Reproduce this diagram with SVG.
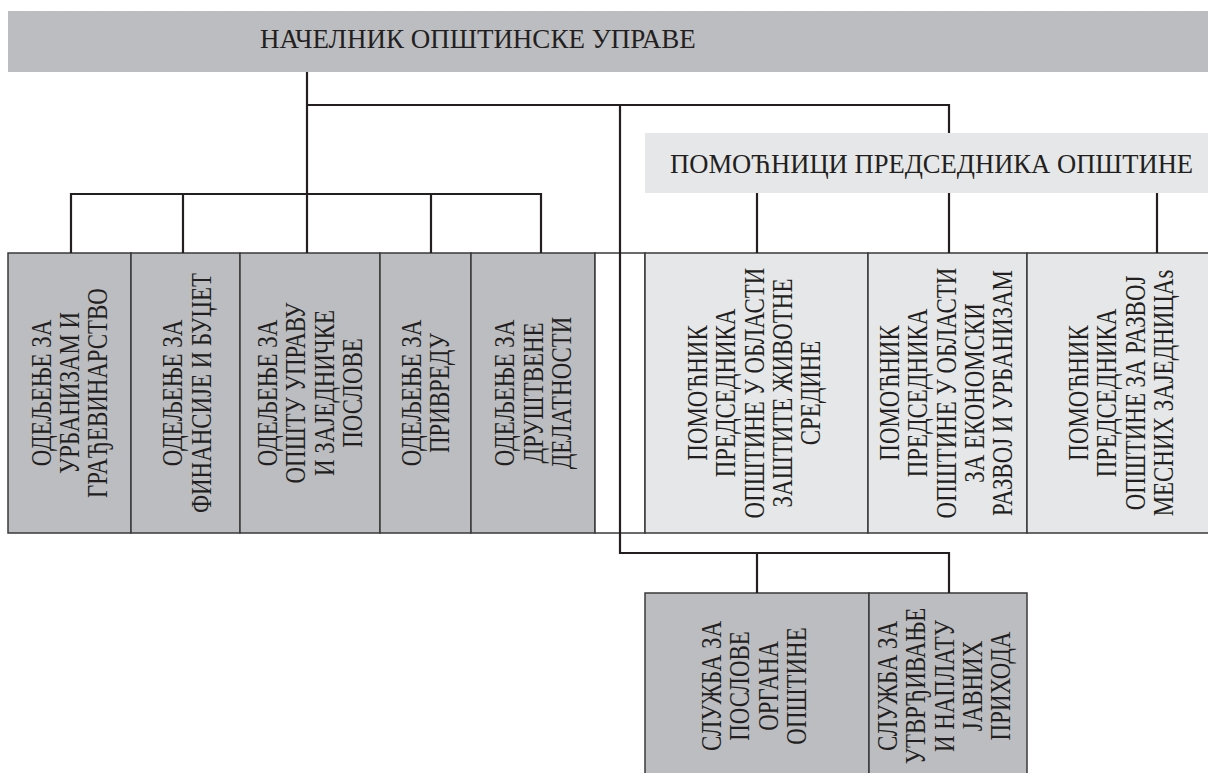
<svg xmlns="http://www.w3.org/2000/svg" width="1208" height="773" viewBox="0 0 1208 773">
<style>
.dark{fill:#bcbdc0;stroke:#3a3a3a;stroke-width:1.5}
.light{fill:#e6e7e8;stroke:#3a3a3a;stroke-width:1.5}
.blank{fill:#ffffff;stroke:#3a3a3a;stroke-width:1.5}
.band{fill:#bcbdc0;stroke:none}
.bandl{fill:#e6e7e8;stroke:none}
.t{font-family:"Liberation Serif","Times New Roman",serif;fill:#231f20}
.h{font-size:27px}
.h2{font-size:26.6px}
.v{font-size:29px;text-anchor:middle}
.c{fill:none;stroke:#231f20;stroke-width:2.2}
</style>
<rect width="1208" height="773" fill="#ffffff"/>

<g id="header">
  <rect class="band" x="8" y="11" width="1200" height="61"/>
  <text class="t h" x="260" y="48">НАЧЕЛНИК ОПШТИНСКЕ УПРАВЕ</text>
</g>

<g id="pomocnici">
  <rect class="bandl" x="645" y="133" width="563" height="60"/>
  <text class="t h2" x="670" y="173">ПОМОЋНИЦИ ПРЕДСЕДНИКА ОПШТИНЕ</text>
</g>

<g id="odeljenje-urbanizam">
  <rect class="dark" x="8" y="253" width="123" height="280"/>
  <g transform="translate(69.5,393) rotate(-90) scale(0.79,1)"><text class="t v"><tspan x="0" y="-19">ОДЕЉЕЊЕ ЗА</tspan><tspan x="0" y="9.5">УРБАНИЗАМ И</tspan><tspan x="0" y="38">ГРАЂЕВИНАРСТВО</tspan></text></g>
</g>
<g id="odeljenje-finansije">
  <rect class="dark" x="131" y="253" width="109" height="280"/>
  <g transform="translate(187,393) rotate(-90) scale(0.79,1)"><text class="t v"><tspan x="0" y="-4.75">ОДЕЉЕЊЕ ЗА</tspan><tspan x="0" y="23.75">ФИНАНСИЈЕ И БУЏЕТ</tspan></text></g>
</g>
<g id="odeljenje-uprava">
  <rect class="dark" x="240" y="253" width="140" height="280"/>
  <g transform="translate(310,393) rotate(-90) scale(0.79,1)"><text class="t v"><tspan x="0" y="-33.25">ОДЕЉЕЊЕ ЗА</tspan><tspan x="0" y="-4.75">ОПШТУ УПРАВУ</tspan><tspan x="0" y="23.75">И ЗАЈЕДНИЧКЕ</tspan><tspan x="0" y="52.25">ПОСЛОВЕ</tspan></text></g>
</g>
<g id="odeljenje-privreda">
  <rect class="dark" x="380" y="253" width="91" height="280"/>
  <g transform="translate(425.5,393) rotate(-90) scale(0.79,1)"><text class="t v"><tspan x="0" y="-4.75">ОДЕЉЕЊЕ ЗА</tspan><tspan x="0" y="23.75">ПРИВРЕДУ</tspan></text></g>
</g>
<g id="odeljenje-drustvene">
  <rect class="dark" x="471" y="253" width="124" height="280"/>
  <g transform="translate(533,393) rotate(-90) scale(0.79,1)"><text class="t v"><tspan x="0" y="-19">ОДЕЉЕЊЕ ЗА</tspan><tspan x="0" y="9.5">ДРУШТВЕНЕ</tspan><tspan x="0" y="38">ДЕЛАТНОСТИ</tspan></text></g>
</g>
<g id="spacer">
  <rect class="blank" x="595" y="253" width="50" height="280"/>
</g>
<g id="pomocnik-zivotna">
  <rect class="light" x="645" y="253" width="223" height="280"/>
  <g transform="translate(754,393) rotate(-90) scale(0.79,1)"><text class="t v"><tspan x="0" y="-47.5">ПОМОЋНИК</tspan><tspan x="0" y="-19">ПРЕДСЕДНИКА</tspan><tspan x="0" y="9.5">ОПШТИНЕ У ОБЛАСТИ</tspan><tspan x="0" y="38">ЗАШТИТЕ ЖИВОТНЕ</tspan><tspan x="0" y="66.5">СРЕДИНЕ</tspan></text></g>
</g>
<g id="pomocnik-ekonomski">
  <rect class="light" x="868" y="253" width="159" height="280"/>
  <g transform="translate(946,393) rotate(-90) scale(0.79,1)"><text class="t v"><tspan x="0" y="-47.5">ПОМОЋНИК</tspan><tspan x="0" y="-19">ПРЕДСЕДНИКА</tspan><tspan x="0" y="9.5">ОПШТИНЕ У ОБЛАСТИ</tspan><tspan x="0" y="38">ЗА ЕКОНОМСКИ</tspan><tspan x="0" y="66.5">РАЗВОЈ И УРБАНИЗАМ</tspan></text></g>
</g>
<g id="pomocnik-mesne">
  <rect class="light" x="1027" y="253" width="185" height="280"/>
  <g transform="translate(1121,393) rotate(-90) scale(0.79,1)"><text class="t v"><tspan x="0" y="-33.25">ПОМОЋНИК</tspan><tspan x="0" y="-4.75">ПРЕДСЕДНИКА</tspan><tspan x="0" y="23.75">ОПШТИНЕ ЗА РАЗВОЈ</tspan><tspan x="0" y="52.25">МЕСНИХ ЗАЈЕДНИЦАs</tspan></text></g>
</g>
<g id="sluzba-organi">
  <rect class="dark" x="645" y="593" width="224" height="190"/>
  <g transform="translate(754,686) rotate(-90) scale(0.79,1)"><text class="t v"><tspan x="0" y="-33.25">СЛУЖБА ЗА</tspan><tspan x="0" y="-4.75">ПОСЛОВЕ</tspan><tspan x="0" y="23.75">ОРГАНА</tspan><tspan x="0" y="52.25">ОПШТИНЕ</tspan></text></g>
</g>
<g id="sluzba-prihodi">
  <rect class="dark" x="869" y="593" width="158" height="190"/>
  <g transform="translate(944,686) rotate(-90) scale(0.79,1)"><text class="t v"><tspan x="0" y="-47.5">СЛУЖБА ЗА</tspan><tspan x="0" y="-19">УТВРЂИВАЊЕ</tspan><tspan x="0" y="9.5">И НАПЛАТУ</tspan><tspan x="0" y="38">ЈАВНИХ</tspan><tspan x="0" y="66.5">ПРИХОДА</tspan></text></g>
</g>

<g id="connectors">
  <path class="c" d="M307,72 V253"/>
  <path class="c" d="M307,105 H949 V133"/>
  <path class="c" d="M71,253 V194 H541 V253 M183,194 V253 M431,194 V253"/>
  <path class="c" d="M757,193 V253 M949,193 V253 M1157,193 V253"/>
  <path class="c" d="M620,105 V553 H949 V593 M757,553 V593"/>
</g>
</svg>
